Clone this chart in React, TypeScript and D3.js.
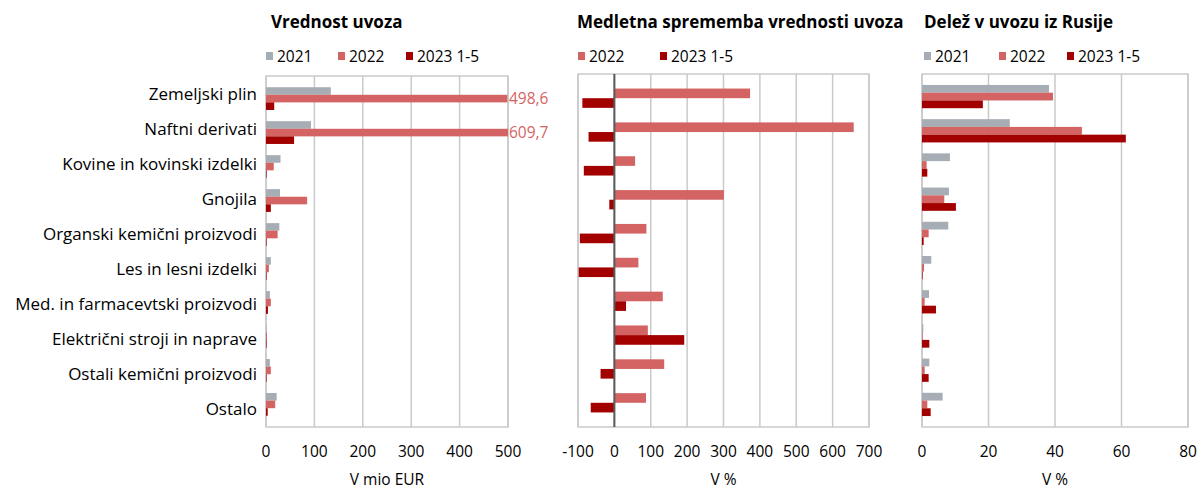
import * as d3 from "d3";

const categories = [
  "Zemeljski plin",
  "Naftni derivati",
  "Kovine in kovinski izdelki",
  "Gnojila",
  "Organski kemični proizvodi",
  "Les in lesni izdelki",
  "Med. in farmacevtski proizvodi",
  "Električni stroji in naprave",
  "Ostali kemični proizvodi",
  "Ostalo",
];

// Vrednost uvoza, mio EUR
const value2021 = [134, 93, 30, 29, 27.5, 10, 8, 0.5, 8, 22];
const value2022 = [498.6, 609.7, 16, 85, 24, 6, 10, 2, 10, 19];
const value2023 = [17, 58, 1, 10, 1, 0.5, 4, 0.3, 1, 3.5];

// Medletna sprememba, %
const change2022 = [373, 658, 57, 301, 88, 66, 133, 92, 137, 87];
const change2023 = [-88, -71, -84, -14, -95, -98, 32, 192, -38, -65];

// Delež v uvozu iz Rusije, %
const share2021 = [38.2, 26.4, 8.4, 8.1, 7.9, 2.8, 2.1, 0.4, 2.2, 6.2];
const share2022 = [39.4, 48.1, 1.4, 6.7, 2.0, 0.6, 0.8, 0.2, 0.8, 1.6];
const share2023 = [18.3, 61.3, 1.6, 10.2, 0.5, 0.1, 4.2, 2.2, 2.0, 2.6];

const ticks1 = [0, 100, 200, 300, 400, 500];
const ticks2 = [-100, 0, 100, 200, 300, 400, 500, 600, 700];
const ticks3 = [0, 20, 40, 60, 80];

const C21 = "#a7adb4";
const C22 = "#d46464";
const C23 = "#a30000";
const GRID = "#cacaca";
const FONT = "'Open Sans', 'Noto Sans', sans-serif";

type Series = { name: string; color: string; values: number[] };

function Panel({
  x0,
  x1,
  top,
  bottom,
  domain,
  ticks,
  series,
  title,
  titleX,
  axisTitle,
  legendX,
  padding,
  zeroDark,
  valueLabels,
}: {
  x0: number;
  x1: number;
  top: number;
  bottom: number;
  domain: [number, number];
  ticks: number[];
  series: Series[];
  title: string;
  titleX: number;
  axisTitle: string;
  legendX: number[];
  padding: number;
  zeroDark?: boolean;
  valueLabels?: number;
}) {
  const x = d3.scaleLinear().domain(domain).range([x0, x1]).clamp(true);
  const y = d3.scaleBand<string>().domain(categories).range([top, bottom]).padding(padding);
  const inner = d3
    .scaleBand<string>()
    .domain(series.map((s) => s.name))
    .range([0, y.bandwidth()]);

  return (
    <g>
      <text x={titleX} y={28} fontFamily={FONT} fontWeight="bold" fontSize={17} fill="#000">
        {title}
      </text>
      {series.map((s, i) => (
        <g key={s.name}>
          <rect x={legendX[i]} y={52} width={7} height={8} fill={s.color} />
          <text x={legendX[i] + 11} y={62} fontFamily={FONT} fontSize={15.5} fill="#000">
            {s.name}
          </text>
        </g>
      ))}
      {ticks.map((t) => (
        <line key={t} x1={x(t)} x2={x(t)} y1={top} y2={bottom} stroke={GRID} strokeWidth={1.5} />
      ))}
      <rect x={x0} y={top} width={x1 - x0} height={bottom - top} fill="none" stroke={GRID} strokeWidth={1.5} />
      {categories.map((c, ci) => (
        <g key={c}>
          {series.map((s) => {
            const v = s.values[ci];
            const a = x(Math.min(0, v));
            const b = x(Math.max(0, v));
            return (
              <rect
                key={s.name}
                x={a}
                y={(y(c) ?? 0) + (inner(s.name) ?? 0)}
                width={Math.max(b - a, 0.6)}
                height={inner.bandwidth()}
                fill={s.color}
              />
            );
          })}
        </g>
      ))}
      {zeroDark && <line x1={x(0)} x2={x(0)} y1={top} y2={bottom} stroke="#5a5a5a" strokeWidth={2} />}
      {valueLabels !== undefined &&
        categories.map((c, ci) => {
          const s = series[valueLabels];
          const v = s.values[ci];
          if (x(v) < x1 - 2) return null;
          return (
            <text
              key={c}
              x={x1 + 1}
              y={(y(c) ?? 0) + (inner(s.name) ?? 0) + inner.bandwidth() / 2}
              dy="0.35em"
              fontFamily={FONT}
              fontSize={15.5}
              fill={C22}
            >
              {d3.format(".1f")(v).replace(".", ",")}
            </text>
          );
        })}
      {ticks.map((t) => (
        <text key={t} x={x(t)} y={457} textAnchor="middle" fontFamily={FONT} fontSize={15.5} fill="#000">
          {t}
        </text>
      ))}
      <text x={(x0 + x1) / 2} y={485} textAnchor="middle" fontFamily={FONT} fontSize={15.5} fill="#000">
        {axisTitle}
      </text>
    </g>
  );
}

export default function App() {
  const yLab = d3.scaleBand<string>().domain(categories).range([76, 427]);
  return (
    <svg
      width={1199}
      height={489}
      style={{ position: "absolute", left: 0, top: 0, background: "#fff" }}
    >
      <rect width={1199} height={489} fill="#fff" />
      {categories.map((c) => (
        <text
          key={c}
          x={257}
          y={(yLab(c) ?? 0) + yLab.bandwidth() / 2}
          dy="0.35em"
          textAnchor="end"
          fontFamily={FONT}
          fontSize={17}
          fill="#000"
        >
          {c}
        </text>
      ))}
      <Panel
        x0={266}
        x1={508}
        top={76}
        bottom={427}
        domain={[0, 500]}
        ticks={ticks1}
        series={[
          { name: "2021", color: C21, values: value2021 },
          { name: "2022", color: C22, values: value2022 },
          { name: "2023 1-5", color: C23, values: value2023 },
        ]}
        title="Vrednost uvoza"
        titleX={271}
        axisTitle="V mio EUR"
        legendX={[266, 338, 406]}
        padding={0.33}
        valueLabels={1}
      />
      <Panel
        x0={578}
        x1={869}
        top={74}
        bottom={427}
        domain={[-100, 700]}
        ticks={ticks2}
        series={[
          { name: "2022", color: C22, values: change2022 },
          { name: "2023 1-5", color: C23, values: change2023 },
        ]}
        title="Medletna sprememba vrednosti uvoza"
        titleX={577}
        axisTitle="V %"
        legendX={[578, 660]}
        padding={0.43}
        zeroDark
      />
      <Panel
        x0={922}
        x1={1188}
        top={74}
        bottom={427}
        domain={[0, 80]}
        ticks={ticks3}
        series={[
          { name: "2021", color: C21, values: share2021 },
          { name: "2022", color: C22, values: share2022 },
          { name: "2023 1-5", color: C23, values: share2023 },
        ]}
        title="Delež v uvozu iz Rusije"
        titleX={924}
        axisTitle="V %"
        legendX={[924, 999, 1067]}
        padding={0.32}
      />
    </svg>
  );
}
